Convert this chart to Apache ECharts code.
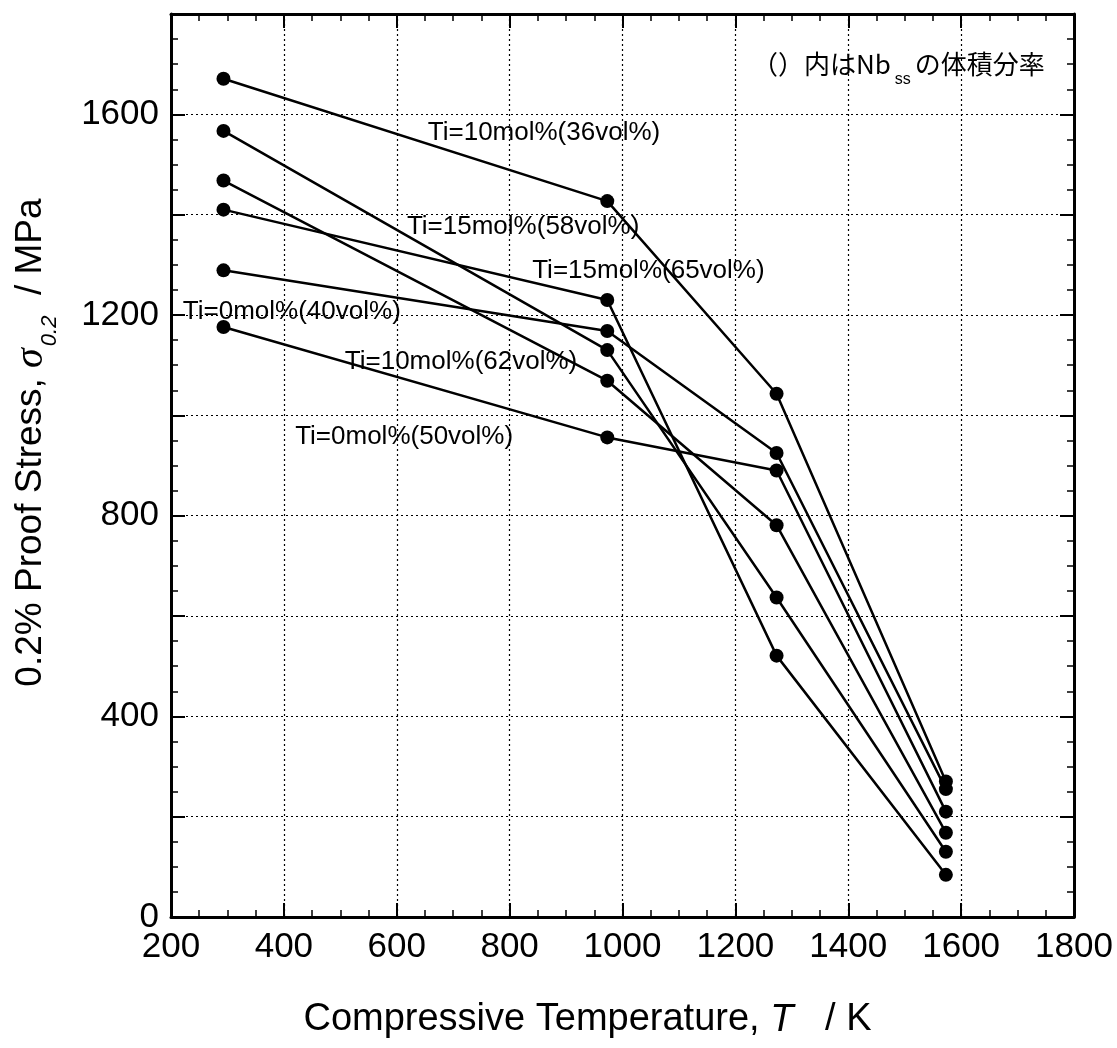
<!DOCTYPE html>
<html>
<head>
<meta charset="utf-8">
<title>0.2% Proof Stress vs Temperature</title>
<script src="https://cdn.jsdelivr.net/npm/echarts@6/dist/echarts.min.js"></script>
<style>
  html, body { margin: 0; padding: 0; background: #fff; }
  #chart { width: 1117px; height: 1048px; }
</style>
</head>
<body>
<div id="chart"></div>
<script>
// compression test temperatures (K)
const temps = [293, 973, 1273, 1573];

// 0.2% proof stress (MPa) for each alloy
const ti10v36 = [1671, 1427, 1043, 270];
const ti15v58 = [1567, 1130, 637, 130];
const ti15v65 = [1468, 1069, 781, 168];
const ti0v40 = [1410, 1230, 521, 84];
const ti10v62 = [1289, 1168, 925, 255];
const ti0v50 = [1176, 956, 890, 210];

const alloyNames = [
  "Ti=10mol%(36vol%)",
  "Ti=15mol%(58vol%)",
  "Ti=15mol%(65vol%)",
  "Ti=0mol%(40vol%)",
  "Ti=10mol%(62vol%)",
  "Ti=0mol%(50vol%)",
];
const alloyStress = [ti10v36, ti15v58, ti15v65, ti0v40, ti10v62, ti0v50];

// y tick labels that are written (grid is every 200)
const yLabels = [0, 400, 800, 1200, 1600];

// where the alloy names sit in the plot (data units, left-middle of text)
const labelAnchors = [
  [655, 1563],
  [618, 1375],
  [840, 1288],
  [221, 1206],
  [508, 1106],
  [420, 957],
];

const latin = "'Liberation Sans', Arial, sans-serif";
const jp = "'Noto Sans CJK JP', 'Liberation Sans', sans-serif";

const chart = echarts.init(document.getElementById("chart"), null, {
  renderer: "canvas",
});

const frameAxis = {
  type: "value",
  axisLine: { show: true, onZero: false, lineStyle: { color: "#000", width: 3 } },
  axisTick: { show: true, inside: true, length: 14, lineStyle: { color: "#000", width: 2 } },
  minorTick: { show: true, splitNumber: 4, length: 7, lineStyle: { color: "#000", width: 1.5 } },
  splitLine: { show: false },
};
const gridDots = { show: true, lineStyle: { type: [2, 3], color: "#000", width: 1.2 } };

const curveSeries = alloyStress.map((vals, i) => ({
  name: alloyNames[i],
  type: "line",
  data: temps.map((t, j) => [t, vals[j]]),
  symbol: "circle",
  symbolSize: 14,
  itemStyle: { color: "#000" },
  lineStyle: { color: "#000", width: 2.5 },
  z: 3,
}));

const option = {
  animation: false,
  backgroundColor: "#fff",
  title: {
    text: "（）内はNb{ss|ss}の体積分率",
    left: 752,
    top: 40,
    padding: 0,
    textStyle: {
      fontSize: 26,
      fontWeight: "normal",
      color: "#000",
      fontFamily: jp,
      rich: {
        ss: {
          fontSize: 16,
          fontFamily: latin,
          color: "#000",
          padding: [32, 4, 0, 4],
          verticalAlign: "bottom",
        },
      },
    },
  },
  grid: {
    left: 171,
    right: 43,
    top: 14,
    bottom: 131,
    outerBoundsMode: "none",
  },
  xAxis: [
    {
      ...frameAxis,
      position: "bottom",
      min: 200,
      max: 1800,
      interval: 200,
      splitLine: gridDots,
      axisLabel: {
        color: "#000",
        fontSize: 35,
        fontFamily: latin,
        margin: 13,
        formatter: (v) => String(v),
      },
      name: "Compressive Temperature, {it|T}   / K",
      nameLocation: "middle",
      nameGap: 84,
      nameTextStyle: {
        color: "#000",
        fontSize: 38,
        fontFamily: latin,
        padding: [0, 70, 0, 0],
        rich: {
          it: { fontSize: 38, fontStyle: "italic", fontFamily: latin, color: "#000" },
        },
      },
    },
    {
      ...frameAxis,
      position: "top",
      min: 200,
      max: 1800,
      interval: 200,
      axisLabel: { show: false },
    },
  ],
  yAxis: [
    {
      ...frameAxis,
      position: "left",
      min: 0,
      max: 1800,
      interval: 200,
      splitLine: gridDots,
      axisLabel: {
        color: "#000",
        fontSize: 35,
        fontFamily: latin,
        margin: 12,
        formatter: (v) => (yLabels.includes(v) ? String(v) : ""),
      },
      name: "0.2% Proof Stress, {sig|σ}{sub|0.2}  / MPa",
      nameLocation: "middle",
      nameRotate: 90,
      nameGap: 110,
      nameTextStyle: {
        color: "#000",
        fontSize: 37,
        fontFamily: latin,
        padding: [0, 0, 0, 46],
        rich: {
          sig: {
            fontSize: 40,
            fontStyle: "italic",
            fontFamily: "'Liberation Serif', 'DejaVu Serif', serif",
            color: "#000",
          },
          sub: {
            fontSize: 22,
            fontStyle: "italic",
            fontFamily: latin,
            color: "#000",
            padding: [38, 0, 0, 2],
            verticalAlign: "bottom",
          },
        },
      },
    },
    {
      ...frameAxis,
      position: "right",
      min: 0,
      max: 1800,
      interval: 200,
      axisLabel: { show: false },
    },
  ],
  series: curveSeries,
};

chart.setOption(option);

// alloy name texts, placed through the axes' own scales
chart.setOption({
  graphic: labelAnchors.map((p, i) => {
    const [px, py] = chart.convertToPixel({ xAxisIndex: 0, yAxisIndex: 0 }, p);
    return {
      type: "text",
      x: px,
      y: py,
      z: 10,
      silent: true,
      style: {
        text: alloyNames[i],
        fill: "#000",
        font: "26px " + latin,
        textAlign: "left",
        textVerticalAlign: "middle",
      },
    };
  }),
});
</script>
</body>
</html>
